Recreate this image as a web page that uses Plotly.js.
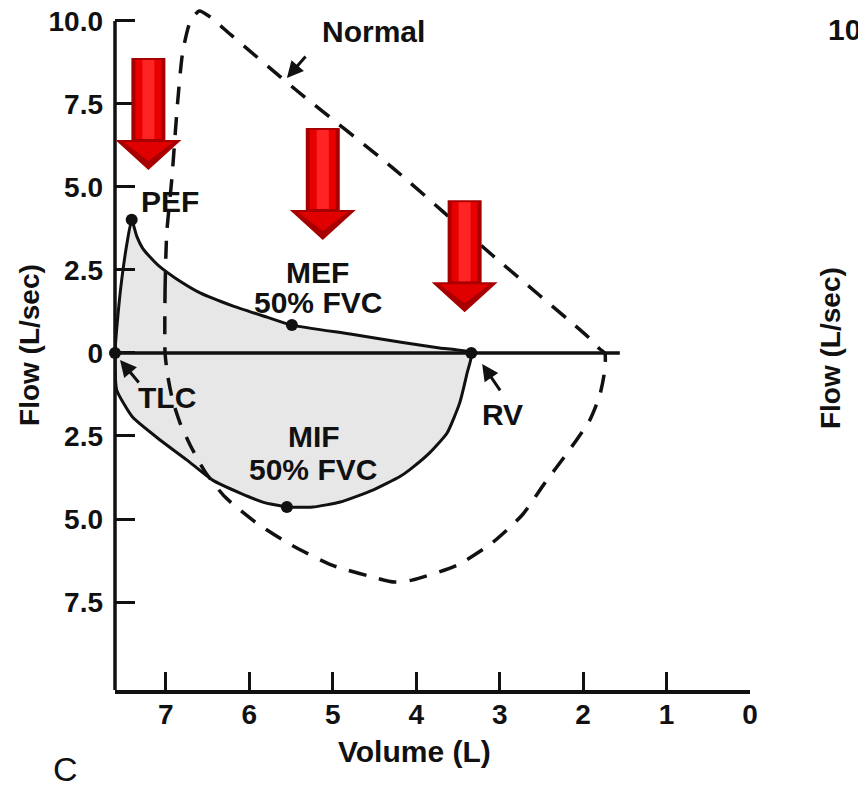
<!DOCTYPE html>
<html>
<head>
<meta charset="utf-8">
<script src="https://cdn.plot.ly/plotly-3.0.1.min.js"></script>
<style>html,body{margin:0;padding:0;background:#fff;}#chart{width:858px;height:792px;}</style>
</head>
<body>
<div id="chart"></div>
<script>
// ---- data ----
// Normal flow-volume loop (dashed)
const normalVolume = [7.01, 7.01, 6.99, 6.93, 6.86, 6.80, 6.71, 6.60, 6.47, 6.22, 5.44, 4.25, 3.09, 1.94, 1.80, 1.74,
                      1.74, 1.80, 1.92, 2.19, 2.46, 2.73, 3.09, 3.51, 4.05, 4.26, 4.52, 5.01, 5.50, 5.93, 6.29, 6.53, 6.71, 6.83, 6.92, 6.98, 7.01];
const normalFlow   = [0.00, 1.90, 3.61, 5.21, 7.53, 9.04, 9.97, 10.30, 10.12, 9.58, 7.92, 5.51, 2.95, 0.48, 0.12, 0.00,
                      -0.51, -1.27, -2.02, -3.01, -3.92, -4.88, -5.72, -6.39, -6.84, -6.90, -6.75, -6.39, -5.78, -5.09, -4.34, -3.58, -2.77, -2.11, -1.42, -0.66, 0.00];
// Patient expiratory limb (TLC -> PEF -> MEF -> RV)
const expVolume = [7.61, 7.58, 7.53, 7.47, 7.41, 7.35, 7.28, 7.19, 7.07, 6.89, 6.59, 6.20, 5.79, 5.49, 4.79, 4.20, 3.72, 3.34];
const expFlow   = [0.00, 0.99, 2.20, 3.25, 4.01, 3.52, 3.16, 2.89, 2.59, 2.26, 1.81, 1.42, 1.08, 0.84, 0.57, 0.33, 0.15, 0.00];
// Patient inspiratory limb (RV -> MIF -> TLC)
const inspVolume = [3.34, 3.39, 3.48, 3.63, 3.84, 4.08, 4.20, 4.52, 4.91, 5.24, 5.55, 5.84, 6.11, 6.44, 6.75, 7.07, 7.40, 7.59, 7.61];
const inspFlow   = [0.00, -0.60, -1.51, -2.41, -3.01, -3.52, -3.73, -4.13, -4.49, -4.64, -4.64, -4.49, -4.22, -3.83, -3.22, -2.62, -1.93, -1.11, 0.00];
// Marked points: TLC, PEF, MEF 50% FVC, RV, MIF 50% FVC
const pointNames  = ["TLC", "PEF", "MEF", "RV", "MIF"];
const pointVolume = [7.61, 7.41, 5.49, 3.34, 5.55];
const pointFlow   = [0.00, 4.01, 0.84, 0.00, -4.64];
// Red "reduced flow" arrows: tip positions
const arrowVolume = [7.21, 5.12, 3.42];
const arrowFlow   = [5.51, 3.40, 1.23];
// Axis ticks
const xTickVals = [7, 6, 5, 4, 3, 2, 1, 0];
const xTickText = ["7", "6", "5", "4", "3", "2", "1", "0"];
const yTickVals = [10, 7.5, 5, 2.5, 0, -2.5, -5, -7.5];
const yTickText = ["10.0", "7.5", "5.0", "2.5", "0", "2.5", "5.0", "7.5"];
const xRange = [7.61, 0];
const yRange = [-10.15, 10.45];
const zeroLineEnd = 1.56;

// ---- styling ----
const INK = "#111111";
const FONT = "Liberation Sans, Arial, Helvetica, sans-serif";
const boldFont = (s) => ({family: FONT, size: s, color: INK, weight: 700});

const traces = [
  {x: expVolume, y: expFlow, mode: "none", fill: "tozeroy", fillcolor: "#e7e7e7", hoverinfo: "skip", showlegend: false},
  {x: inspVolume, y: inspFlow, mode: "none", fill: "tozeroy", fillcolor: "#e7e7e7", hoverinfo: "skip", showlegend: false},
  {x: normalVolume, y: normalFlow, mode: "lines", line: {color: INK, width: 3.5, dash: "18px,13px", shape: "spline", smoothing: 0.6}, showlegend: false},
  {x: expVolume.concat(inspVolume.slice(1)), y: expFlow.concat(inspFlow.slice(1)), mode: "lines",
   line: {color: INK, width: 3, shape: "spline", smoothing: 0.5}, showlegend: false},
  {x: pointVolume, y: pointFlow, text: pointNames, mode: "markers", marker: {color: INK, size: 12}, cliponaxis: false, showlegend: false}
];

// arrow shapes (pixel-sized, anchored at tip in data coords)
const shapes = [
  {type: "line", xref: "x", yref: "y", x0: xRange[0], x1: zeroLineEnd, y0: 0, y1: 0, line: {color: INK, width: 3.5}},
  {type: "line", xref: "paper", yref: "y", x0: 0, x1: 0, y0: yRange[0], y1: 10.0, line: {color: INK, width: 3.5}}
];
arrowVolume.forEach((v, i) => {
  const f = arrowFlow[i];
  const base = {type: "path", xref: "x", yref: "y", xsizemode: "pixel", ysizemode: "pixel", xanchor: v, yanchor: f, line: {width: 0}};
  shapes.push(Object.assign({}, base, {path: "M 0 0 L -33 30 L -17 30 L -17 112 L 17 112 L 17 30 L 33 30 Z", fillcolor: "#a80000"}));
  shapes.push(Object.assign({}, base, {path: "M -13 31 L 13 31 L 13 110 L -13 110 Z", fillcolor: "#e80000"}));
  shapes.push(Object.assign({}, base, {path: "M -6 31 L 6 31 L 6 110 L -6 110 Z", fillcolor: "#ff2424"}));
  shapes.push(Object.assign({}, base, {path: "M 0 9 L -25 28 L 25 28 Z", fillcolor: "#e00000"}));
});

const ann = (text, x, y, size) => ({text, x, y, xref: "x", yref: "y", showarrow: false, font: boldFont(size || 30), xanchor: "center", yanchor: "middle"});
const pointer = (x, y, ax, ay) => ({text: "", x, y, xref: "x", yref: "y", showarrow: true, ax, ay, axref: "pixel", ayref: "pixel",
  arrowhead: 2, arrowsize: 1.1, arrowwidth: 3, arrowcolor: INK, standoff: 0});

const annotations = [
  ann("Normal", 4.51, 9.67),
  ann("PEF", 6.95, 4.55),
  ann("MEF", 5.18, 2.41),
  ann("50% FVC", 5.18, 1.51),
  ann("TLC", 6.99, -1.33),
  ann("MIF", 5.23, -2.53),
  ann("50% FVC", 5.24, -3.52),
  ann("RV", 2.97, -1.84),
  pointer(5.55, 8.28, 20, -23),
  pointer(7.55, -0.21, 20, 24),
  pointer(3.21, -0.33, 19, 28),
  {text: "Volume (L)", xref: "paper", yref: "paper", x: 0.4724, y: -0.0892, showarrow: false, font: boldFont(30), xanchor: "center", yanchor: "middle"},
  {text: "Flow (L/sec)", xref: "paper", yref: "paper", x: -0.1339, y: 0.5044, showarrow: false, textangle: -90, font: boldFont(28), xanchor: "center", yanchor: "middle"},
  {text: "C", xref: "paper", yref: "paper", x: -0.0787, y: -0.115, showarrow: false, font: {family: FONT, size: 34, color: INK}, xanchor: "center", yanchor: "middle"},
  {text: "Flow (L/sec)", xref: "paper", yref: "paper", x: 1.126, y: 0.5, showarrow: false, textangle: -90, font: boldFont(28), xanchor: "center", yanchor: "middle"},
  {text: "10.0", xref: "paper", yref: "paper", x: 1.1197, y: 0.965, showarrow: false, font: boldFont(30), xanchor: "left", yanchor: "middle"},
  {text: "D", xref: "paper", yref: "paper", x: 1.186, y: -0.115, showarrow: false, font: {family: FONT, size: 34, color: INK}, xanchor: "center", yanchor: "middle"}
];

const layout = {
  width: 858, height: 792,
  margin: {l: 115, r: 108, t: 6, b: 102, pad: 0},
  paper_bgcolor: "#ffffff", plot_bgcolor: "#ffffff",
  showlegend: false,
  xaxis: {range: xRange, tickvals: xTickVals, ticktext: xTickText, ticks: "inside", ticklen: 18, tickwidth: 3, tickcolor: INK,
          showline: true, linewidth: 3.5, linecolor: INK, showgrid: false, zeroline: false, tickfont: boldFont(28), ticklabelstandoff: -3, fixedrange: true},
  yaxis: {range: yRange, tickvals: yTickVals, ticktext: yTickText, ticks: "inside", ticklen: 20, tickwidth: 3, tickcolor: INK,
          showline: false, showgrid: false, zeroline: false, tickfont: boldFont(28), ticklabelstandoff: 11, fixedrange: true},
  shapes, annotations
};

Plotly.newPlot("chart", traces, layout, {staticPlot: true, displayModeBar: false});
</script>
</body>
</html>
